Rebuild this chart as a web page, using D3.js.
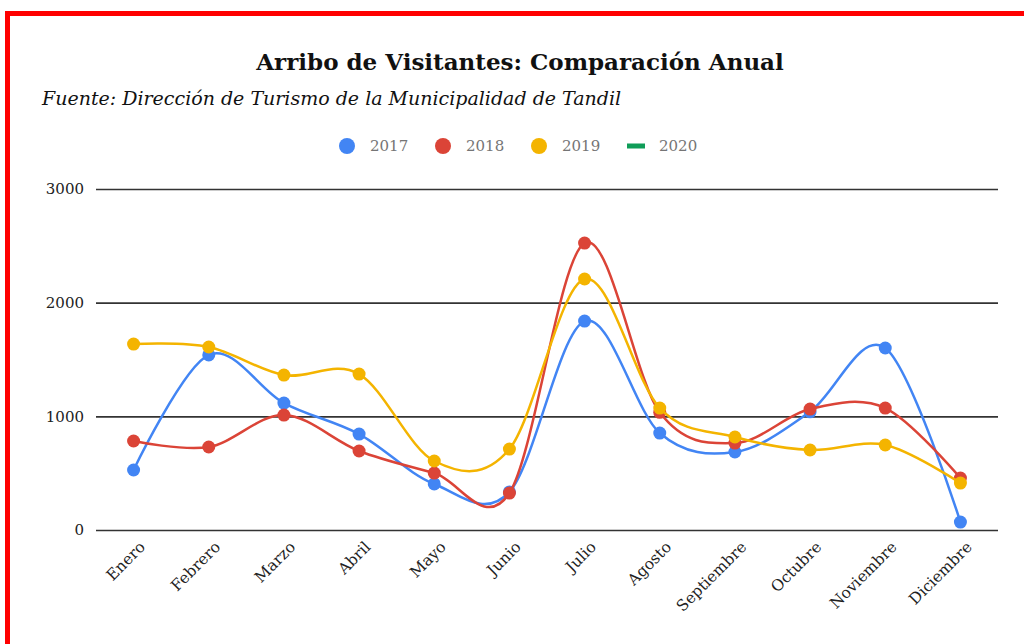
<!DOCTYPE html>
<html>
<head>
<meta charset="utf-8">
<script src="https://cdn.jsdelivr.net/npm/d3@7"></script>
<style>
  body { margin: 0; background: #fff; }
  svg { display: block; }
</style>
</head>
<body>
<script>
const width = 1024
const height = 644

const months = ['Enero', 'Febrero', 'Marzo', 'Abril', 'Mayo', 'Junio', 'Julio', 'Agosto', 'Septiembre', 'Octubre', 'Noviembre', 'Diciembre']
const years = ['2017', '2018', '2019', '2020']
const v2017 = [528, 1540, 1117, 844, 405, 335, 1838, 853, 686, 1040, 1601, 70]
const v2018 = [783, 730, 1011, 695, 501, 325, 2524, 1035, 765, 1064, 1073, 457]
const v2019 = [1636, 1610, 1363, 1372, 607, 712, 2208, 1073, 818, 704, 748, 413]
const v2020 = []
const yTicks = [0, 1000, 2000, 3000]
const colors = ['#4285f4', '#db4437', '#f4b400', '#0f9d58']

const series = [v2017, v2018, v2019, v2020]

const svg = d3.select('body').append('svg').attr('width', width).attr('height', height)

// red frame
svg.append('rect')
    .attr('x', 7.5).attr('y', 13.5)
    .attr('width', 1040).attr('height', 660)
    .attr('fill', 'none').attr('stroke', '#ff0000').attr('stroke-width', 5)

svg.append('text')
    .attr('x', 520).attr('y', 70)
    .attr('text-anchor', 'middle')
    .style('font-family', 'DejaVu Serif')
    .style('font-weight', 'bold')
    .style('font-size', '23px')
    .attr('fill', '#111')
    .text('Arribo de Visitantes: Comparación Anual')

svg.append('text')
    .attr('x', 42).attr('y', 105)
    .style('font-family', 'DejaVu Serif')
    .style('font-style', 'italic')
    .style('font-size', '19px')
    .attr('fill', '#111')
    .text('Fuente: Dirección de Turismo de la Municipalidad de Tandil')

// legend
const legendX = [347, 443, 539, 636]
const legend = svg.append('g').selectAll('g')
    .data(years)
    .join('g')
    .attr('transform', (d, i) => `translate(${legendX[i]},146)`)
legend.each(function (d, i) {
    const g = d3.select(this)
    if (i < 3) {
        g.append('circle').attr('r', 8).attr('fill', colors[i])
    } else {
        g.append('rect').attr('x', -9).attr('y', -2.5).attr('width', 18).attr('height', 5).attr('fill', colors[i])
    }
    g.append('text')
        .attr('x', 23).attr('y', 5)
        .style('font-family', 'DejaVu Serif')
        .style('font-size', '15px')
        .attr('fill', '#757575')
        .text(d)
})

const x = d3.scalePoint().domain(months).range([96, 998]).padding(0.5)
const y = d3.scaleLinear().domain([0, 3000]).range([530, 189])

// gridlines
const yAxis = svg.append('g')
    .attr('transform', 'translate(96,0)')
    .call(d3.axisLeft(y).tickValues(yTicks).tickSize(-902).tickPadding(12).tickFormat(d3.format('d')))
yAxis.select('.domain').remove()
yAxis.selectAll('line').attr('stroke', '#333').attr('stroke-width', 1.6)
yAxis.selectAll('text')
    .style('font-family', 'DejaVu Serif')
    .style('font-size', '15px')
    .attr('fill', '#222')

const xAxis = svg.append('g')
    .attr('transform', 'translate(0,530)')
    .call(d3.axisBottom(x).tickSize(0).tickPadding(0))
xAxis.select('.domain').remove()
xAxis.selectAll('text')
    .style('font-family', 'DejaVu Serif')
    .style('font-size', '15.5px')
    .attr('fill', '#222')
    .attr('text-anchor', 'end')
    .attr('dy', 0)
    .attr('transform', 'translate(12,18) rotate(-45)')

const line = d3.line()
    .x((d, i) => x(months[i]))
    .y(d => y(d))
    .curve(d3.curveCatmullRom.alpha(0))

series.forEach((vals, s) => {
    if (!vals.length) return
    svg.append('path')
        .datum(vals)
        .attr('fill', 'none')
        .attr('stroke', colors[s])
        .attr('stroke-width', 2.5)
        .attr('d', line)
    svg.append('g').selectAll('circle')
        .data(vals)
        .join('circle')
        .attr('cx', (d, i) => x(months[i]))
        .attr('cy', d => y(d))
        .attr('r', 6.5)
        .attr('fill', colors[s])
})
</script>
</body>
</html>
